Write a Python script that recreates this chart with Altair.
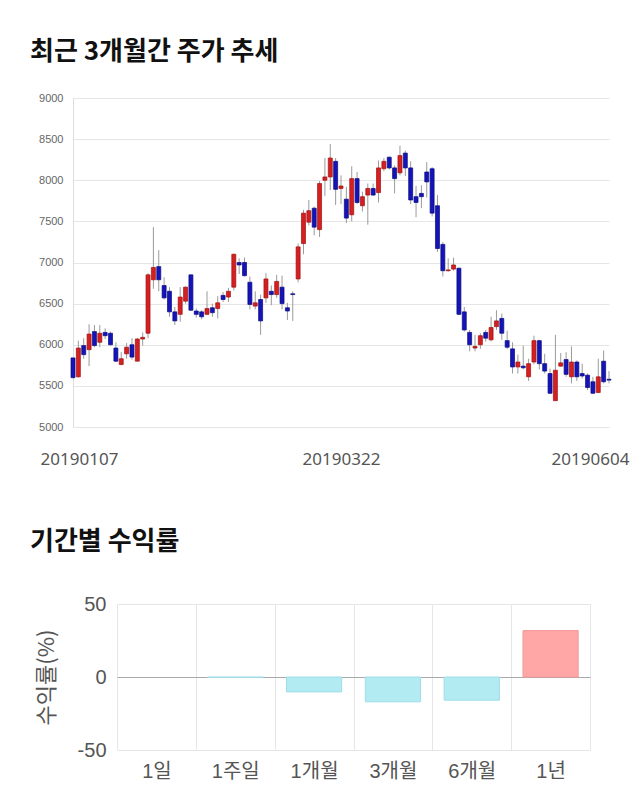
import altair as alt
import numpy as np
import pandas as pd

# ---- trading days (KRX) ----
holidays = ["2019-02-04", "2019-02-05", "2019-02-06", "2019-03-01", "2019-05-01", "2019-05-06"]
days = [d for d in pd.bdate_range("2019-01-07", "2019-06-04") if d.strftime("%Y-%m-%d") not in holidays]
dates = [d.strftime("%Y%m%d") for d in days]

opens = [5840, 5610, 5990, 5940, 6160, 6030, 6150, 6140, 5960, 5760,
         5890, 6000, 5800, 6070, 6140, 6790, 6950, 6720, 6650, 6400,
         6370, 6530, 6850, 6410, 6400, 6370, 6450, 6440, 6600, 6580,
         6700, 7000, 7000, 6760, 6470, 6550, 6570, 6650, 6610, 6700,
         6450, 6620, 6800, 7230, 7490, 7660, 7400, 8000, 8040, 8230,
         7900, 7770, 7580, 8020, 7690, 7820, 7900, 7850, 8140, 8280,
         8150, 8090, 8330, 8150, 7800, 7840, 8100, 8140, 7690, 7220,
         6900, 6920, 6930, 6400, 6150, 5960, 6000, 6150, 6060, 6220,
         6320, 6050, 5950, 5730, 5740, 5610, 5790, 6050, 5770, 5650,
         5320, 5740, 5820, 5610, 5790, 5650, 5630, 5550, 5420, 5800,
         5580]
closes = [5600, 5960, 5880, 6130, 5990, 6140, 6110, 6000, 5800, 5830,
          5970, 5850, 6070, 6090, 6850, 6940, 6790, 6570, 6400, 6290,
          6580, 6700, 6420, 6370, 6340, 6440, 6390, 6510, 6550, 6650,
          7100, 6970, 6840, 6490, 6510, 6290, 6800, 6610, 6770, 6500,
          6410, 6610, 7190, 7600, 7630, 7430, 7960, 8040, 8270, 7890,
          7930, 7540, 8020, 7730, 7800, 7900, 7820, 8150, 8230, 8150,
          8020, 8300, 8150, 7760, 7730, 7800, 7980, 7600, 7170, 6900,
          6910, 6970, 6370, 6180, 6000, 5980, 6110, 6080, 6210, 6290,
          6140, 5970, 5730, 5790, 5720, 5770, 6050, 5770, 5680, 5410,
          5690, 5780, 5640, 5790, 5610, 5620, 5480, 5410, 5610, 5550,
          5570]
highs = [5840, 6050, 6080, 6250, 6240, 6240, 6200, 6160, 6030, 5910,
         6020, 6080, 6080, 6150, 6870, 7430, 7150, 6820, 6700, 6460,
         6700, 6710, 6850, 6440, 6420, 6650, 6500, 6590, 6640, 6690,
         7110, 7050, 7060, 6830, 6650, 6610, 6870, 6720, 6850, 6840,
         6510, 6650, 7230, 7640, 7760, 7680, 7990, 8270, 8440, 8270,
         8060, 7920, 8170, 8100, 7860, 7960, 7960, 8240, 8270, 8290,
         8180, 8420, 8360, 8230, 7930, 7940, 8220, 8160, 7820, 7250,
         7050, 7060, 6940, 6460, 6180, 6120, 6140, 6180, 6340, 6420,
         6380, 6170, 6030, 5880, 5990, 5830, 6110, 6060, 5890, 5710,
         6120, 5900, 5910, 5980, 5810, 5770, 5650, 5610, 5830, 5930,
         5680]
lows = [5590, 5600, 5830, 5740, 5970, 5970, 6070, 5990, 5790, 5750,
        5830, 5820, 5800, 5990, 6080, 6680, 6650, 6550, 6340, 6240,
        6280, 6500, 6410, 6330, 6310, 6360, 6340, 6320, 6520, 6520,
        6660, 6860, 6830, 6430, 6430, 6120, 6510, 6480, 6570, 6430,
        6300, 6290, 6760, 7100, 7450, 7330, 7310, 7810, 7880, 7700,
        7710, 7480, 7500, 7710, 7620, 7460, 7810, 7730, 8110, 8130,
        7840, 8060, 8050, 7710, 7550, 7660, 7790, 7560, 7130, 6830,
        6890, 6900, 6360, 6160, 5920, 5920, 5950, 6040, 6040, 6180,
        6060, 5950, 5650, 5650, 5700, 5560, 5760, 5700, 5650, 5400,
        5320, 5730, 5610, 5530, 5560, 5590, 5450, 5400, 5410, 5530,
        5530]

tick_dates = ["20190107", "20190322", "20190604"]
price_ticks = [5000, 5500, 6000, 6500, 7000, 7500, 8000, 8500, 9000]

periods = ["1일", "1주일", "1개월", "3개월", "6개월", "1년"]
returns = [0.0, -0.3, -10.2, -17.0, -15.9, 31.8]

KFONT = "Noto Sans CJK KR"
NFONT = "Liberation Sans, Noto Sans CJK KR"

df = pd.DataFrame({"date": dates, "open": opens, "close": closes, "high": highs, "low": lows})

xenc = alt.X(
    "date:O",
    scale=alt.Scale(type="point", padding=0),
    axis=alt.Axis(
        values=tick_dates, labelAngle=0, domain=False, ticks=False, grid=False, title=None,
        labelFont="Noto Sans", labelFontSize=17, labelColor="#555555", labelPadding=24,
        labelOffset={"condition": [
            {"test": "datum.value === '20190604'", "value": -19},
            {"test": "datum.value === '20190107'", "value": 6}],
            "value": 0},
    ),
)
yscale = alt.Scale(domain=[5000, 9000], nice=False, zero=False)
yaxis = alt.Axis(
    values=price_ticks, format="d", title=None, ticks=False, domainColor="#dddddd", gridColor="#e6e6e6",
    labelFont=NFONT, labelFontSize=11, labelColor="#666666", labelPadding=10,
)

up = "datum.close >= datum.open"
wicks = alt.Chart(df).mark_rule(color="#9a9a9a", strokeWidth=1).encode(
    x=xenc, y=alt.Y("low:Q", scale=yscale, axis=yaxis), y2="high:Q"
)
bodies = alt.Chart(df).mark_bar(size=4, strokeWidth=0.7).encode(
    x=xenc,
    y=alt.Y("open:Q", scale=yscale, axis=yaxis),
    y2="close:Q",
    color=alt.condition(up, alt.value("#d42020"), alt.value("#1414b8")),
    stroke=alt.condition(up, alt.value("#a01010"), alt.value("#0a0a80")),
)
candle = alt.layer(wicks, bodies).properties(
    width=536, height=329,
    title=alt.TitleParams("최근 3개월간 주가 추세", anchor="start", frame="group", dx=-43, offset=27,
                          fontSize=26, font=KFONT, fontWeight="bold", color="#111111"),
)

bdf = pd.DataFrame({"period": periods, "ret": returns})
pos = "datum.ret > 0"

bar = alt.Chart(bdf).mark_bar(width=alt.RelativeBandSize(0.7), strokeWidth=1).encode(
    x=alt.X("period:N", sort=periods, scale=alt.Scale(paddingInner=0, paddingOuter=0),
            axis=alt.Axis(title=None, labelAngle=0, domain=False, ticks=False, grid=True, tickBand="extent",
                          gridColor="#e6e6e6", labelFont=NFONT, labelFontSize=20, labelColor="#555555",
                          labelPadding=11)),
    y=alt.Y("ret:Q", scale=alt.Scale(domain=[-50, 50], nice=False),
            axis=alt.Axis(values=[-50, 0, 50], labelExpr="datum.value + ''", title="수익률(%)",
                          titleFont=KFONT, titleFontSize=22,
                          titleFontWeight="normal", titleColor="#555555", titlePadding=19,
                          domain=False, ticks=False, labelFont=NFONT, labelFontSize=20,
                          labelColor="#555555", labelPadding=11,
                          gridColor={"condition": {"test": "datum.value === 0", "value": "#aaaaaa"},
                                     "value": "#e6e6e6"})),
    color=alt.condition(pos, alt.value("#ffa6a6"), alt.value("#b3ebf2")),
    stroke=alt.condition(pos, alt.value("#f29a9a"), alt.value("#9fdde8")),
    opacity=alt.condition("datum.ret == 0", alt.value(0), alt.value(1)),
).properties(
    width=473, height=146,
    title=alt.TitleParams("기간별 수익률", anchor="start", frame="group", dx=-87, offset=39,
                          fontSize=26, font=KFONT, fontWeight="bold", color="#111111"),
)

spacer = alt.Chart(pd.DataFrame({"v": [0]})).mark_point(opacity=0).encode(
    x=alt.value(0), y=alt.value(0)
).properties(width=44, height=146)

row2 = alt.hconcat(spacer, bar, spacing=0, bounds="flush")

chart = alt.vconcat(candle, row2, spacing=177, bounds="flush").properties(
    padding={"left": 30, "top": 39, "right": 5, "bottom": 5}
).configure_view(stroke=None)

chart.save("out.html", embed_options={"renderer": "svg", "actions": False})
